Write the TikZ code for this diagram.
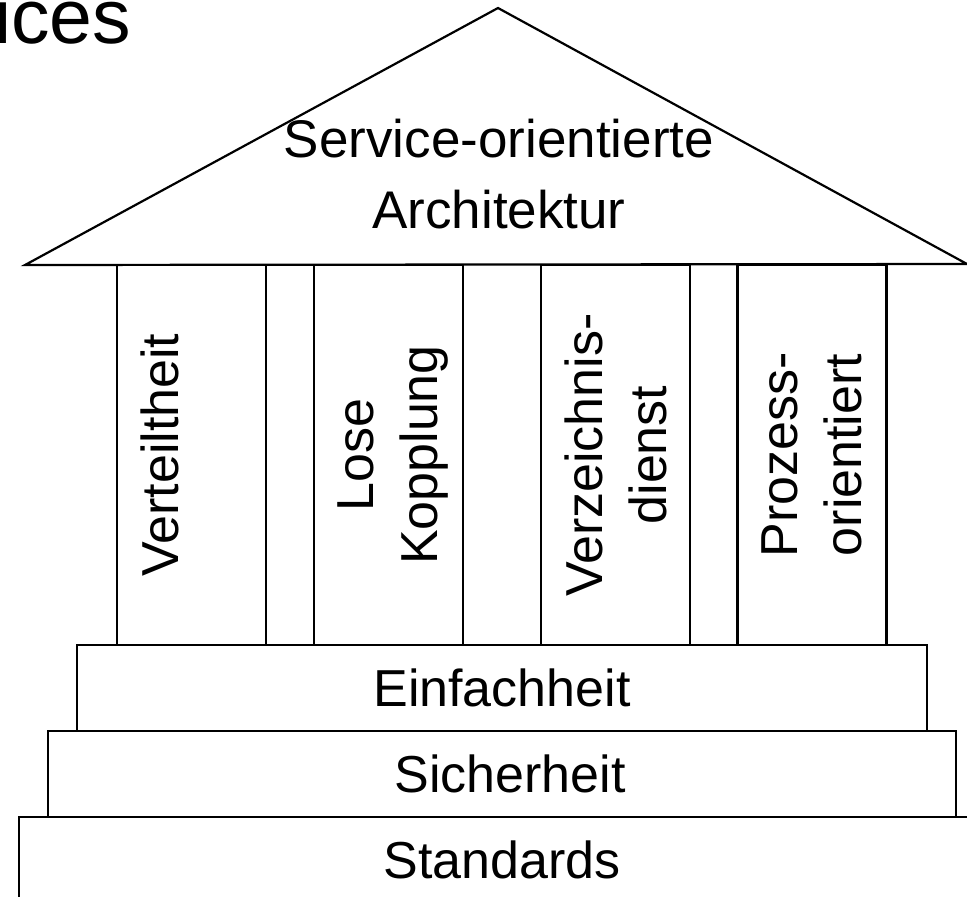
\documentclass[tikz,border=0pt]{standalone}
\usepackage{fontspec}
\setmainfont{Liberation Sans}
\usetikzlibrary{positioning}

\tikzset{
    pillar/.style = {draw, line width = 2.2pt, outer sep = 0pt, minimum width = 149pt, minimum height = 380pt},
    slab/.style = {draw, line width = 2.2pt, outer sep = 0pt, minimum height = 86pt, font = \fontsize{52}{60}\selectfont},
    pillarlabel/.style = {rotate = 90, anchor = north, inner sep = 0pt, align = center, font = \fontsize{52}{64}\selectfont}
}

\begin{document}
\begin{tikzpicture}[x = 1pt, y = -1pt]
    \clip (0, 0) rectangle (967, 897);

    \node[anchor = base west, inner sep = 0pt, font = \fontsize{77}{80}\selectfont] (title) at (-6, 43) {ices};

    \draw[line width = 2.2pt] (25, 265) -- (498, 8) -- (967, 264) -- cycle;
    \node[anchor = north, inner sep = 0pt, align = center, font = \fontsize{53}{71}\selectfont] (roof) at (499, 119) {Service-orientierte\\Architektur};

    \node[pillar] (verteil) at (191.5, 455) {};
    \node[pillar] (kopplung) at (388.5, 455) {};
    \node[pillar] (verzeichnis) at (615.5, 455) {};
    \node[pillar] (prozess) at (812, 455) {};

    \node[pillarlabel] at ([xshift = 24pt] verteil.west) {Verteiltheit};
    \node[pillarlabel] at ([xshift = 24pt] kopplung.west) {Lose\\Kopplung};
    \node[pillarlabel] at ([xshift = 24pt] verzeichnis.west) {Verzeichnis-\\dienst};
    \node[pillarlabel] at ([xshift = 24pt] prozess.west) {Prozess-\\orientiert};

    \node[slab, minimum width = 850pt] (einfach) at (502, 688) {Einfachheit};
    \node[slab, minimum width = 908pt, below = 0pt of einfach] (sicher) {\hspace*{16pt}Sicherheit};
    \node[slab, minimum width = 966pt, below = 0pt of sicher] (standard) {Standards};
\end{tikzpicture}
\end{document}
